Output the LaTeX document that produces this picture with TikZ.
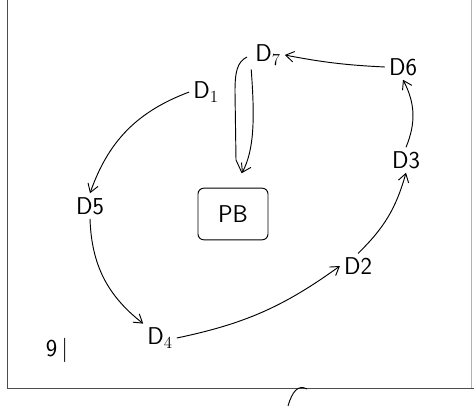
\documentclass[tikz,border=0pt]{standalone}
\usetikzlibrary{arrows.meta}
\begin{document}
\begin{tikzpicture}[x=0.03cm,y=-0.03cm,
    lbl/.style={font=\sffamily\huge},
    arr/.style={-{Straight Barb[length=7pt,width=9pt]},thick}]
                \useasboundingbox (0,0) rectangle (474,406);

                % frame of the page
                \draw[thick,black!70] (7,0) -- (7,388) -- (474,388);
                \draw[gray!60] (471,0) -- (471,388);

                \node[lbl] (d1) at (206,92) {D$_1$};
                \node[lbl] (d7) at (268,55) {D$_7$};
                \node[lbl] (d6) at (403,67) {D6};
                \node[lbl] (d3) at (406,160) {D3};
                \node[lbl] (d2) at (358,266) {D2};
                \node[lbl] (d4) at (160,338) {D$_4$};
                \node[lbl] (d5) at (90,206) {D5};
                \node[lbl,draw,thick,rounded corners=5pt,minimum width=2.1cm,minimum height=1.55cm] (pb) at (233,214) {PB};
                \node[lbl] (num) at (57,350) {9\,|};

                \coordinate (hook) at (247,57);
                \coordinate (tip) at (242,173);

                \draw[arr] (d1.west) to[bend right=25] (d5.north);
                \draw[arr] (d5.south) to[bend right=25] (d4.north west);
                \draw[arr] (d4.east) to[bend right=12] (d2.west);
                \draw[arr] (d2.north) to[bend right=15] (d3.south);
                \draw[arr] (d3.north) to[bend right=25] (d6.south);
                \draw[arr] (d6.west) to[bend left=4] (d7.east);

                \draw[thick] (hook) .. controls (237,62) and (235,72) .. (235,92) -- (236,160) -- (tip);
                \draw[arr] (d7.south west) .. controls (255,120) and (254,150) .. (tip);

                % stray mark under the frame
                \draw[thick] (288,406) .. controls (292,392) and (298,384) .. (307,389);
            \end{tikzpicture}
\end{document}
